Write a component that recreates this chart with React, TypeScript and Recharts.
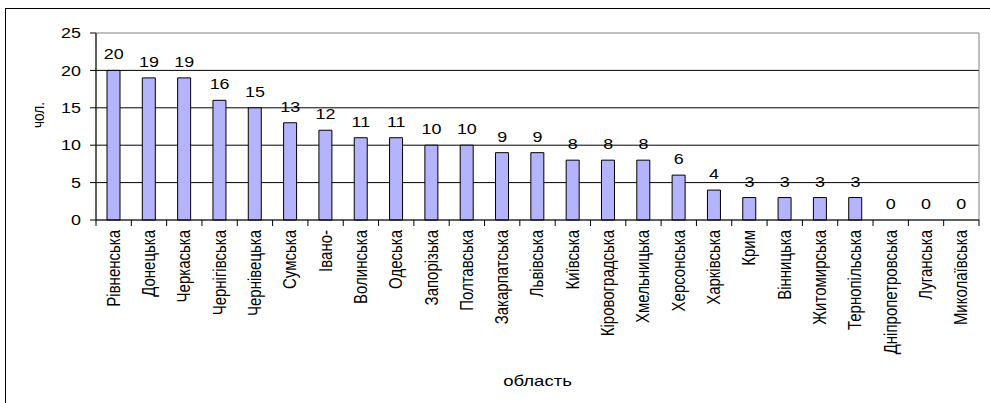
import React from "react";
import {
  ComposedChart,
  Bar,
  Line,
  XAxis,
  YAxis,
  CartesianGrid,
  LabelList,
  ReferenceArea,
  Label,
} from "recharts";

const regions = [
  "Рівненська",
  "Донецька",
  "Черкаська",
  "Чернігівська",
  "Чернівецька",
  "Сумська",
  "Івано-",
  "Волинська",
  "Одеська",
  "Запорізька",
  "Полтавська",
  "Закарпатська",
  "Львівська",
  "Київська",
  "Кіровоградська",
  "Хмельницька",
  "Херсонська",
  "Харківська",
  "Крим",
  "Вінницька",
  "Житомирська",
  "Тернопільська",
  "Дніпропетровська",
  "Луганська",
  "Миколаївська",
];

const counts = [
  20, 19, 19, 16, 15, 13, 12, 11, 11, 10, 10, 9, 9, 8, 8, 8, 6, 4, 3, 3, 3, 3, 0,
  0, 0,
];

const yTicks = [0, 5, 10, 15, 20, 25];
const gridValues = [5, 10, 15, 20];

const data = regions.map((name, i) => ({ name, value: counts[i] }));

const FONT = "'Liberation Sans', Arial, sans-serif";
const PLOT_LEFT = 96;
const PLOT_RIGHT = 979;
const STEP = (PLOT_RIGHT - PLOT_LEFT) / regions.length;
// the old Excel export is a bit stretched sideways, text included
const SX = 1.28;

// mark between categories, label rotated to read upwards
const CategoryTick = (props: any) => {
  const { x, y, payload, index } = props;
  const left = x - STEP / 2;
  return (
    <g>
      <line x1={left} y1={y} x2={left} y2={y + 6} stroke="#000" />
      {index === regions.length - 1 && (
        <line x1={x + STEP / 2} y1={y} x2={x + STEP / 2} y2={y + 6} stroke="#000" />
      )}
      <text
        transform={`translate(${x},${y + 10}) scale(${SX - 0.08},1) rotate(-90)`}
        textAnchor="end"
        dominantBaseline="central"
        fontFamily={FONT}
        fontSize={15}
        fill="#000"
      >
        {payload.value}
      </text>
    </g>
  );
};

const ValueTick = (props: any) => {
  const { x, y, payload } = props;
  return (
    <text
      transform={`translate(${x},${y}) scale(${SX},1)`}
      textAnchor="end"
      dominantBaseline="central"
      fontFamily={FONT}
      fontSize={14}
      fill="#000"
    >
      {payload.value}
    </text>
  );
};

const ValueLabel = (props: any) => {
  const { x, y, value } = props;
  return (
    <text
      transform={`translate(${x},${y - 11}) scale(${SX},1)`}
      textAnchor="middle"
      fontFamily={FONT}
      fontSize={14}
      fill="#000"
    >
      {value}
    </text>
  );
};

export default function App() {
  return (
    <div style={{ position: "absolute", left: 0, top: 0, width: 990, height: 403 }}>
      <div
        style={{
          position: "absolute",
          left: 5,
          top: 8,
          width: 985,
          height: 395,
          borderLeft: "1px solid #000",
          borderTop: "1px solid #000",
          boxSizing: "border-box",
        }}
      />
      <div style={{ position: "absolute", left: 0, top: 0 }}>
        <ComposedChart
          width={990}
          height={403}
          data={data}
          margin={{ top: 33, right: 990 - PLOT_RIGHT, left: PLOT_LEFT - 60, bottom: 33 }}
          barCategoryGap={0}
        >
          <ReferenceArea
            y1={0}
            y2={25}
            fill="none"
            stroke="#808080"
            strokeWidth={1}
            ifOverflow="visible"
          />
          <CartesianGrid
            vertical={false}
            horizontalValues={gridValues}
            stroke="#000"
            strokeDasharray=""
          />
          <XAxis
            dataKey="name"
            interval={0}
            height={150}
            stroke="#000"
            tickLine={false}
            tickSize={0}
            tickMargin={0}
            tick={<CategoryTick />}
          >
            <Label
              content={() => (
                <text
                  transform={`translate(${(PLOT_LEFT + PLOT_RIGHT) / 2},381) scale(${SX},1)`}
                  textAnchor="middle"
                  dominantBaseline="central"
                  fontFamily={FONT}
                  fontSize={14.5}
                  fill="#000"
                >
                  область
                </text>
              )}
            />
          </XAxis>
          <YAxis
            width={60}
            domain={[0, 25]}
            ticks={yTicks}
            interval={0}
            stroke="#000"
            tickSize={6}
            tickMargin={9}
            tick={<ValueTick />}
          >
            <Label
              content={() => (
                <text
                  transform={`translate(37.5,115) scale(${SX},1) rotate(-90)`}
                  textAnchor="middle"
                  dominantBaseline="central"
                  fontFamily={FONT}
                  fontSize={13.5}
                  fill="#000"
                >
                  чол.
                </text>
              )}
            />
          </YAxis>
          <Bar
            dataKey="value"
            fill="#b4b4fc"
            stroke="#000"
            strokeWidth={1}
            barSize={13}
            isAnimationActive={false}
          />
          <Line
            dataKey="value"
            stroke="none"
            dot={false}
            activeDot={false}
            legendType="none"
            isAnimationActive={false}
          >
            <LabelList dataKey="value" content={<ValueLabel />} />
          </Line>
        </ComposedChart>
      </div>
    </div>
  );
}
